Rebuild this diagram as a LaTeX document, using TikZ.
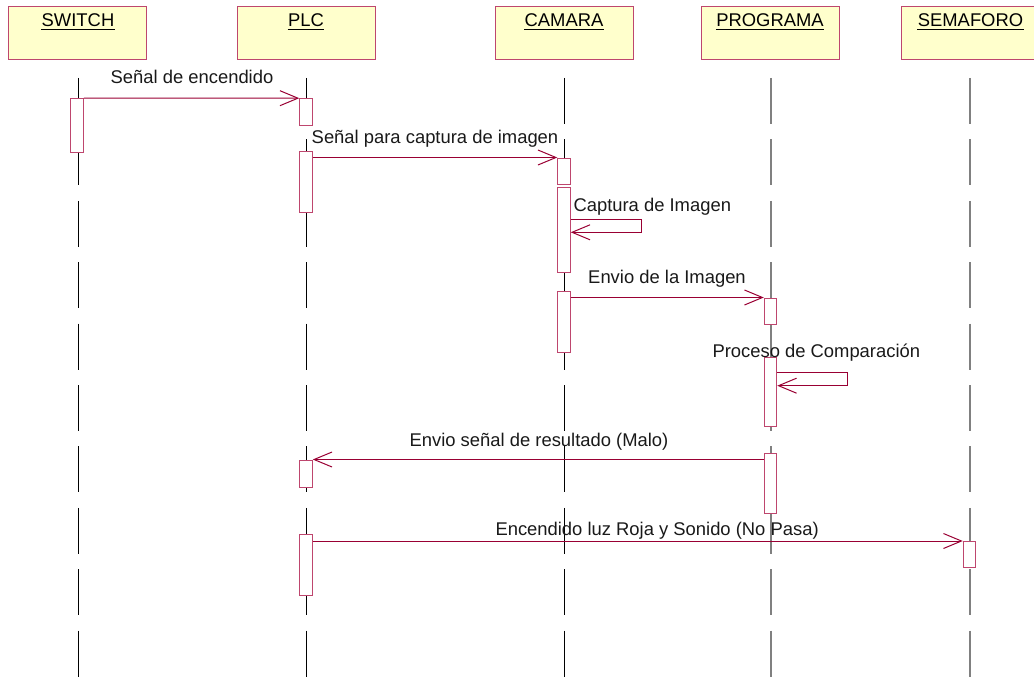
\documentclass[tikz,border=0pt]{standalone}
\usepackage{fontspec}
\setmainfont{Liberation Sans}
\usetikzlibrary{arrows.meta}
\definecolor{rosered}{RGB}{153,0,51}
\definecolor{roseedge}{RGB}{190,70,110}
\definecolor{headfill}{RGB}{255,255,204}

\begin{document}
\begin{tikzpicture}[x=1pt,y=-1pt,line width=1pt,
  every node/.style={font=\fontsize{18.4}{22}\selectfont},
  header/.style={draw=roseedge,fill=headfill,minimum width=138pt,minimum height=53pt,inner sep=0pt,anchor=north},
  objname/.style={inner sep=0pt,anchor=base},
  uline/.style={black,line width=1.3pt},
  lifeline/.style={black,dash pattern=on 46pt off 15.4pt},
  lifegray/.style={gray,line width=1.4pt,dash pattern=on 46pt off 15.4pt},
  act/.style={draw=roseedge,fill=white,minimum width=12.5pt,inner sep=0pt},
  msg/.style={rosered,-{Straight Barb[length=18pt,width=15pt,line width=1pt]}},
  msglabel/.style={inner sep=0pt,text=black!90}]

\useasboundingbox (0,0) rectangle (1034,677);

% object headers (the last one runs past the right edge)
\begin{scope}
\clip (0,0) rectangle (1034,677);
\node[header] (hswitch) at (77,6) {};
\node[header] (hplc) at (306,6) {};
\node[header] (hcam) at (564,6) {};
\node[header] (hprog) at (770,6) {};
\node[header] (hsem) at (970,6) {};
\end{scope}

\node[objname] (nswitch) at (78,27) {SWITCH};
\node[objname] (nplc) at (306,27) {PLC};
\node[objname] (ncam) at (564,27) {CAMARA};
\node[objname] (nprog) at (770,27) {PROGRAMA};
\node[objname] (nsem) at (970.5,27) {SEMAFORO};
\foreach \n in {nswitch,nplc,ncam,nprog,nsem}
  \draw[uline] ([yshift=-2.5pt]\n.base west) -- ([yshift=-2.5pt]\n.base east);

% lifelines
\coordinate (lswitch) at (78,78);
\coordinate (lplc) at (306,78);
\coordinate (lcam) at (564,78);
\coordinate (lprog) at (771,78);
\coordinate (lsem) at (970,78);
\draw[lifeline] (lswitch) -- (lswitch |- 0,677);
\draw[lifeline] (lplc) -- (lplc |- 0,677);
\draw[lifeline] (lcam) -- (lcam |- 0,677);
\draw[lifegray] (lprog) -- (lprog |- 0,677);
\draw[lifegray] (lsem) -- (lsem |- 0,677);

% activations
\node[act,minimum height=54pt] (s1) at (77,125.7) {};
\node[act,minimum height=26.3pt] (p1) at (306,111.85) {};
\node[act,minimum height=61pt] (p2) at (306,181.5) {};
\node[act,minimum height=27pt] (p3) at (306,473.5) {};
\node[act,minimum height=61pt] (p4) at (306,564.5) {};
\node[act,minimum height=26pt] (c1) at (564,171) {};
\node[act,minimum height=85pt] (c2) at (564,230) {};
\node[act,minimum height=61pt] (c3) at (564,321.5) {};
\node[act,minimum height=26pt] (g1) at (770.5,311) {};
\node[act,minimum height=69pt] (g2) at (770.5,391.5) {};
\node[act,minimum height=60.5pt] (g3) at (770.5,483.25) {};
\node[act,minimum height=25.5pt] (f1) at (969.5,554.25) {};

% messages
\draw[msg] (s1.north east) -- (p1.north west);
\node[msglabel,anchor=base] (m1) at (192,84) {Señal de encendido};

\draw[msg] (p2.east |- c1.north) -- (c1.north west);
\node[msglabel,anchor=base] (m2) at (435,143.5) {Señal para captura de imagen};

\coordinate (cl1) at (641,219.3);
\coordinate (cl2) at (641,232.3);
\draw[msg] (c2.east |- cl1) -- (cl1) -- (cl2) -- (c2.east |- cl2);
\node[msglabel,anchor=base west] (m3) at (573,211.7) {Captura de Imagen};

\draw[msg] (c3.east |- g1.north) -- (g1.north west);
\node[msglabel,anchor=base] (m4) at (667,283.5) {Envio de la Imagen};

\coordinate (gl1) at (847,372.3);
\coordinate (gl2) at (847,385.7);
\draw[msg] (g2.east |- gl1) -- (gl1) -- (gl2) -- (g2.east |- gl2);
\node[msglabel,anchor=base west] (m5) at (712,357.3) {Proceso de Comparación};

\draw[msg] (g3.west |- p3.north) -- (p3.north east);
\node[msglabel,anchor=base] (m6) at (539,446) {Envio señal de resultado (Malo)};

\draw[msg] (p4.east |- f1.north) -- (f1.north west);
\node[msglabel,anchor=base west] (m7) at (495,535) {Encendido luz Roja y Sonido (No Pasa)};

\end{tikzpicture}
\end{document}
